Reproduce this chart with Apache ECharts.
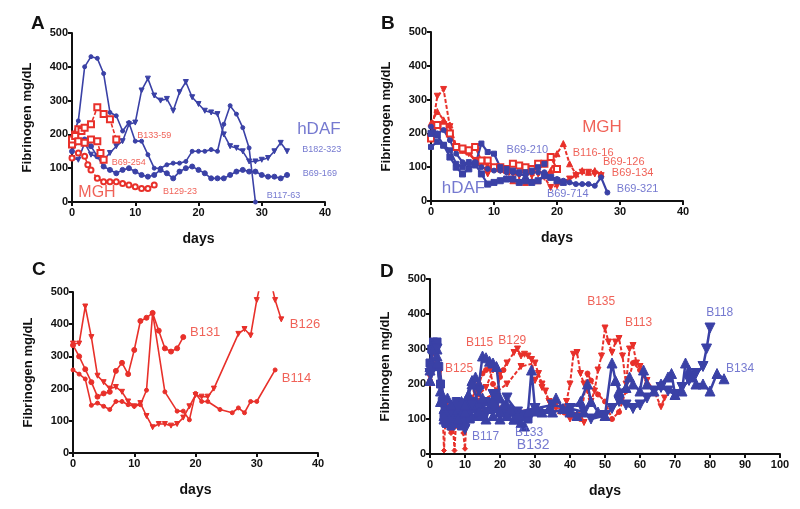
<!DOCTYPE html>
<html lang="en">
<head>
  <meta charset="UTF-8">
  <title>Fibrinogen</title>
  <script src="https://cdn.jsdelivr.net/npm/echarts@6/dist/echarts.min.js"></script>
</head>
<body style="margin:0;background:#fff">
  <div id="main" style="width:800px;height:509px;"></div>
  <script type="text/javascript">
    // colours picked off the figure
    const RED = '#e8302a'
    const BLUE = '#3a41a6'
    const BLUE_TXT = '#5257c4'
    const RED_TXT = '#ec3b2e'

    // ---- panel A ----
    const a_B182_323 = [[0,130],[1,125],[2,175],[3,140],[4,135],[5,125],[6,145],[7,165],[8,180],[9,230],[10,235],[11,330],[12,365],[13,315],[14,300],[15,305],[16,270],[17,325],[18,355],[19,310],[20,290],[21,270],[22,265],[23,260],[24,200],[25,165],[26,160],[27,150],[28,120],[29,120],[30,125],[31,130],[32,150],[33,175],[34,150]]
    const a_B117_63 = [[0,190],[1,240],[2,400],[3,430],[4,425],[5,380],[6,265],[7,255],[8,210],[9,235],[10,180],[11,180],[12,140],[13,100],[14,100],[15,110],[16,115],[17,115],[18,120],[19,150],[20,150],[21,150],[22,155],[23,150],[24,230],[25,285],[26,260],[27,220],[28,160],[29,0]]
    const a_B69_169 = [[0,150],[1,180],[2,185],[3,165],[4,135],[5,105],[6,95],[7,85],[8,95],[9,100],[10,90],[11,80],[12,75],[13,80],[14,95],[15,85],[16,70],[17,90],[18,100],[19,105],[20,95],[21,85],[22,70],[23,70],[24,70],[25,80],[26,90],[27,95],[28,90],[29,90],[30,80],[31,75],[32,75],[33,70],[34,80]]
    const a_B133_59 = [[0,170],[0.5,200],[1,215],[1.5,210],[2,220],[3,230],[4,280],[5,260],[6,245],[7,185]]
    const a_B69_254 = [[0,185],[0.5,195],[1,180],[2,175],[3,185],[4,180],[4.5,145],[5,125]]
    const a_B129_23 = [[0,130],[1,145],[2,135],[2.5,110],[3,95],[4,70],[5,60],[6,60],[7,60],[8,55],[9,50],[10,45],[11,40],[12,40],[13,50]]

    // ---- panel B ----
    const b_B69_134 = [[0,190],[1,310],[2,330],[3,220],[4,160],[5,150],[6,140],[7,120],[8,110],[9,80],[10,95],[11,90],[12,85],[13,80],[14,75],[15,80],[16,75],[17,80],[18,70],[19,40],[20,45],[21,55],[22,65],[23,75],[24,85],[25,85],[26,80],[27,75]]
    const b_B116_16 = [[0,230],[1,265],[2,240],[3,225],[4,160],[5,150],[6,145],[7,120],[8,115],[9,105],[10,100],[11,95],[12,90],[13,60],[14,60],[15,55],[16,60],[17,60],[18,75],[19,90],[20,140],[21,170],[22,110],[23,80],[24,90],[25,85],[26,90],[27,80]]
    const b_B69_126 = [[0,185],[1,225],[2,220],[3,200],[4,160],[5,155],[6,150],[7,160],[8,120],[9,120],[10,100],[11,100],[12,95],[13,110],[14,105],[15,100],[16,95],[17,110],[18,110],[19,130],[20,95]]
    const b_B69_210 = [[0,160],[1,175],[2,165],[3,150],[4,110],[5,100],[6,115],[7,105],[8,170],[9,145],[10,140],[11,100],[12,95],[13,90],[14,85],[15,85],[16,90],[17,100],[18,110]]
    const b_B69_714 = [[0,200],[1,195],[2,165],[3,130],[4,100],[5,80],[6,95],[7,110],[8,80],[9,50],[10,55],[11,60],[12,65],[13,65],[14,55],[15,60],[16,55],[17,60],[18,75],[19,70],[20,60],[21,55]]
    const b_B69_321 = [[0,220],[1,200],[2,210],[3,180],[4,140],[5,115],[6,110],[7,115],[8,100],[9,95],[10,90],[11,90],[12,85],[13,85],[14,80],[15,75],[16,85],[17,85],[18,85],[19,70],[20,65],[21,60],[22,55],[23,50],[24,50],[25,50],[26,45],[27,70],[28,25]]

    // ---- panel C ----
    const c_B126 = [[0,340],[1,340],[2,455],[3,360],[4,240],[5,220],[6,200],[7,205],[8,190],[9,160],[10,145],[11,155],[12,115],[13,80],[14,90],[15,90],[16,85],[17,90],[18,110],[19,145],[20,180],[21,175],[22,175],[23,200],[27,370],[28,385],[29,365],[30,475],[31,560],[32,560],[33,475],[34,415]]
    const c_B131 = [[0,335],[1,300],[2,260],[3,220],[4,175],[5,185],[6,190],[7,255],[8,280],[9,245],[10,320],[11,410],[12,420],[13,435],[14,380],[15,325],[16,315],[17,325],[18,360]]
    const c_B114 = [[0,258],[1,245],[2,230],[3,148],[4,155],[5,145],[6,135],[7,160],[8,160],[9,150],[10,145],[11,150],[12,195],[13,435],[15,190],[17,130],[18,130],[19,103],[20,185],[21,160],[22,160],[24,135],[26,125],[27,140],[28,125],[29,160],[30,160],[33,258]]

    // ---- panel D ----
    const d_B125 = [[0,200],[0.5,260],[1,320],[1.5,300],[2,310],[2.5,250],[3,240],[3.5,150],[4,10],[4.5,120],[5,150],[5.5,80],[6,60],[6.5,90],[7,10],[7.5,100],[8,90],[8.5,150],[9,130],[9.5,60],[10,15],[10.5,110],[11,140],[12,100]]
    const d_B115 = [[0,230],[1,300],[2,320],[3,200],[4,120],[5,90],[6,70],[7,80],[8,110],[9,130],[10,100],[11,140],[12,160],[13,180],[14,200],[15,230],[16,240],[17,245],[18,200],[19,180],[20,220],[21,240]]
    const d_B129 = [[0,250],[1,290],[2,300],[3,200],[4,150],[5,130],[6,120],[8,110],[10,140],[12,150],[14,170],[16,190],[18,240],[20,230],[22,260],[24,290],[25,300],[26,280],[27,285],[28,280],[29,270],[30,210],[31,230],[32,190],[33,180],[34,150],[36,140],[38,120],[40,100],[42,110],[44,90]]
    const d_B135 = [[0,220],[2,300],[4,150],[6,110],[8,120],[10,130],[14,150],[18,170],[22,200],[26,250],[30,260],[32,200],[34,150],[36,130],[38,130],[39,150],[40,200],[41,285],[42,290],[43,230],[44,200],[45,180],[46,150],[47,180],[48,240],[49,280],[50,360],[51,320],[52,290],[53,320],[54,330],[55,280],[56,200],[57,300],[58,310],[59,260],[60,250],[62,210],[64,180],[66,135],[67,160]]
    const d_B113 = [[0,210],[2,260],[4,120],[6,130],[8,140],[10,130],[15,120],[20,130],[25,120],[30,130],[35,120],[40,110],[43,100],[45,230],[46,210],[48,170],[50,150],[52,100],[54,120],[56,180],[58,260],[60,240],[62,200]]
    const d_B117 = [[0,260],[0.5,300],[1,320],[1.5,310],[2,320],[2.5,250],[3,200],[3.5,150],[4,110],[4.5,90],[5,100],[5.5,120],[6,80],[6.5,130],[7,100],[7.5,150],[8,120],[8.5,90],[9,80],[9.5,140],[10,90],[10.5,130],[11,120],[11.5,100],[12,150],[13,130],[14,140],[16,150],[18,130],[20,120],[22,110],[24,120],[26,110],[28,100],[30,120]]
    const d_B133 = [[0,240],[1,310],[2,300],[3,150],[4,100],[5,90],[6,110],[8,130],[10,150],[12,210],[13,220],[14,200],[15,280],[16,275],[17,265],[18,260],[19,250],[20,160],[22,140],[24,100],[26,90],[27,80]]
    const d_B132 = [[0,250],[1,300],[2,280],[3,180],[4,130],[5,160],[6,140],[7,90],[8,110],[9,150],[10,120],[11,170],[12,140],[13,110],[14,120],[15,160],[16,100],[17,130],[18,110],[19,170],[20,100],[21,140],[22,110],[23,130],[24,100],[26,110],[28,120],[29,240],[30,130],[32,120],[34,130],[36,160],[38,130],[40,120],[42,110],[44,120]]
    const d_B118 = [[0,230],[2,300],[4,150],[6,120],[8,130],[10,70],[12,140],[14,180],[16,120],[18,170],[20,110],[22,160],[25,120],[30,130],[35,140],[40,130],[44,120],[46,100],[50,110],[52,130],[54,150],[56,140],[58,130],[60,140],[62,160],[64,180],[66,190],[68,180],[70,170],[72,190],[74,210],[76,230],[78,250],[79,300],[80,360]]
    const d_B134 = [[0,210],[2,260],[4,110],[6,140],[8,100],[10,140],[12,200],[15,110],[18,150],[20,120],[25,110],[30,130],[35,120],[40,130],[43,150],[45,200],[46,150],[48,120],[50,110],[52,260],[53,210],[54,180],[56,190],[57,220],[58,200],[60,180],[61,240],[62,200],[64,180],[66,200],[68,220],[69,230],[70,170],[72,180],[73,260],[74,240],[75,220],[76,200],[78,200],[80,180],[82,230],[84,215]]

    // text notes: [day, value, text]
    const aNotes = [[36.4,154,'B182-323'],[36.5,83,'B69-169'],[30.8,18,'B117-63'],[10.3,198,'B133-59'],[6.3,118,'B69-254'],[14.4,30,'B129-23']]
    const bNotes = [[12,151,'B69-210'],[22.5,142,'B116-16'],[27.3,115,'B69-126'],[28.7,83,'B69-134'],[29.5,36,'B69-321'],[18.4,21,'B69-714']]
    const cNotes = [[19.1,376,'B131'],[35.4,398,'B126'],[34.1,233,'B114']]
    const dRedNotes = [[44.9,434,'B135'],[55.7,374,'B113'],[19.5,323,'B129'],[10.3,317,'B115'],[4.3,245,'B125']]
    const dBlueNotes = [[12,49,'B117'],[24.3,60,'B133'],[24.8,26,'B132'],[78.9,403,'B118'],[84.6,243,'B134']]

    const grids = [
      { left: 72, top: 33, width: 253, height: 169 },
      { left: 431, top: 32, width: 252, height: 169 },
      { left: 73, top: 292, width: 245, height: 161 },
      { left: 430, top: 279, width: 350, height: 175 }
    ]
    const xMax = [40, 40, 40, 100]
    const FONT = 'Liberation Sans, Arial, sans-serif'

    function xAxis(i) {
      return {
        gridIndex: i, type: 'value', min: 0, max: xMax[i], interval: 10,
        name: 'days', nameLocation: 'middle', nameGap: 30,
        nameTextStyle: { fontFamily: FONT, fontWeight: 'bold', fontSize: 14, color: '#111' },
        axisLine: { lineStyle: { color: '#111', width: 2 } },
        axisTick: { length: 4, lineStyle: { color: '#111', width: 2 } },
        axisLabel: { fontFamily: FONT, fontWeight: 'bold', fontSize: 11, color: '#111', margin: 5 },
        splitLine: { show: false }
      }
    }
    function yAxis(i) {
      return {
        gridIndex: i, type: 'value', min: 0, max: 500, interval: 100,
        name: 'Fibrinogen mg/dL', nameLocation: 'middle', nameGap: 38,
        nameTextStyle: { fontFamily: FONT, fontWeight: 'bold', fontSize: 13, color: '#111' },
        axisLine: { show: true, lineStyle: { color: '#111', width: 2 } },
        axisTick: { show: true, length: 4, lineStyle: { color: '#111', width: 2 } },
        axisLabel: { fontFamily: FONT, fontWeight: 'bold', fontSize: 11, color: '#111', margin: 4 },
        splitLine: { show: false }
      }
    }

    function line(i, data, color, opts) {
      opts = opts || {}
      return {
        type: 'line', xAxisIndex: i, yAxisIndex: i, data: data,
        symbol: opts.symbol || 'circle', symbolSize: opts.size || 4,
        symbolRotate: opts.rotate || 0,
        clip: true, animation: false,
        itemStyle: { color: color, borderColor: color, borderWidth: opts.border || 1 },
        lineStyle: { color: color, width: opts.width || 1.6, type: opts.dash ? [4, 2] : 'solid' },
        z: opts.z || 2
      }
    }

    function notes(i, list, color, size) {
      return {
        type: 'scatter', xAxisIndex: i, yAxisIndex: i, symbolSize: 0, silent: true,
        animation: false, z: 10,
        data: list.map(n => ({ value: [n[0], n[1]], name: n[2] })),
        label: {
          show: true, position: 'right', distance: 0, formatter: p => p.name,
          fontFamily: FONT, fontSize: size, color: color
        }
      }
    }

    const series = [
      // A
      line(0, a_B182_323, BLUE, { symbol: 'triangle', rotate: 180, size: 5 }),
      line(0, a_B117_63, BLUE, { size: 4 }),
      line(0, a_B69_169, BLUE, { size: 5 }),
      line(0, a_B133_59, RED, { symbol: 'emptyRect', size: 6, dash: true }),
      line(0, a_B69_254, RED, { symbol: 'emptyRect', size: 6, dash: true }),
      line(0, a_B129_23, RED, { symbol: 'emptyCircle', size: 5, dash: true }),
      notes(0, aNotes.slice(0, 3), BLUE_TXT, 9),
      notes(0, aNotes.slice(3), RED_TXT, 9),
      notes(0, [[35.6, 216, 'hDAF']], BLUE_TXT, 17),
      notes(0, [[1, 27, 'MGH']], RED_TXT, 16),
      // B
      line(1, b_B69_134, RED, { symbol: 'triangle', rotate: 180, size: 6, dash: true, width: 2 }),
      line(1, b_B116_16, RED, { symbol: 'triangle', size: 6, dash: true, width: 2 }),
      line(1, b_B69_126, RED, { symbol: 'emptyRect', size: 6, width: 2 }),
      line(1, b_B69_210, BLUE, { symbol: 'rect', size: 5, width: 2.2 }),
      line(1, b_B69_714, BLUE, { symbol: 'rect', size: 6, width: 2.2 }),
      line(1, b_B69_321, BLUE, { size: 5, width: 2.2 }),
      notes(1, [bNotes[0], bNotes[4], bNotes[5]], BLUE_TXT, 11),
      notes(1, bNotes.slice(1, 4), RED_TXT, 11),
      notes(1, [[24, 219, 'MGH']], RED_TXT, 17),
      notes(1, [[1.7, 38, 'hDAF']], BLUE_TXT, 17),
      // C
      line(2, c_B126, RED, { symbol: 'triangle', rotate: 180, size: 5 }),
      line(2, c_B131, RED, { size: 5 }),
      line(2, c_B114, RED, { size: 4 }),
      notes(2, cNotes, RED_TXT, 13),
      // D
      line(3, d_B125, RED, { symbol: 'diamond', size: 5, dash: true, width: 2 }),
      line(3, d_B115, RED, { size: 5, dash: true, width: 2 }),
      line(3, d_B129, RED, { symbol: 'triangle', rotate: 180, size: 6, dash: true, width: 2 }),
      line(3, d_B135, RED, { symbol: 'triangle', rotate: 180, size: 6, dash: true, width: 2 }),
      line(3, d_B113, RED, { size: 5, dash: true, width: 2 }),
      line(3, d_B117, BLUE, { symbol: 'rect', size: 8, width: 2.5, z: 3 }),
      line(3, d_B133, BLUE, { symbol: 'triangle', size: 10, width: 2.5, z: 3 }),
      line(3, d_B132, BLUE, { symbol: 'triangle', size: 10, width: 2.5, z: 3 }),
      line(3, d_B118, BLUE, { symbol: 'triangle', rotate: 180, size: 10, width: 2.5, z: 3 }),
      line(3, d_B134, BLUE, { symbol: 'triangle', size: 10, width: 2.5, z: 3 }),
      notes(3, dRedNotes, RED_TXT, 12),
      notes(3, dBlueNotes.slice(0, 2).concat(dBlueNotes.slice(3)), BLUE_TXT, 12),
      notes(3, [dBlueNotes[2]], BLUE_TXT, 14)
    ]

    const chart = echarts.init(document.getElementById('main'))
    chart.setOption({
      backgroundColor: '#fff',
      animation: false,
      title: [
        { text: 'A', left: 26, top: 9 },
        { text: 'B', left: 376, top: 9 },
        { text: 'C', left: 27, top: 255 },
        { text: 'D', left: 375, top: 257 }
      ].map(t => Object.assign(t, { textStyle: { fontFamily: FONT, fontWeight: 'bold', fontSize: 19, color: '#111' } })),
      grid: grids,
      xAxis: [0, 1, 2, 3].map(xAxis),
      yAxis: [0, 1, 2, 3].map(yAxis),
      series: series
    })
  </script>
</body>
</html>
